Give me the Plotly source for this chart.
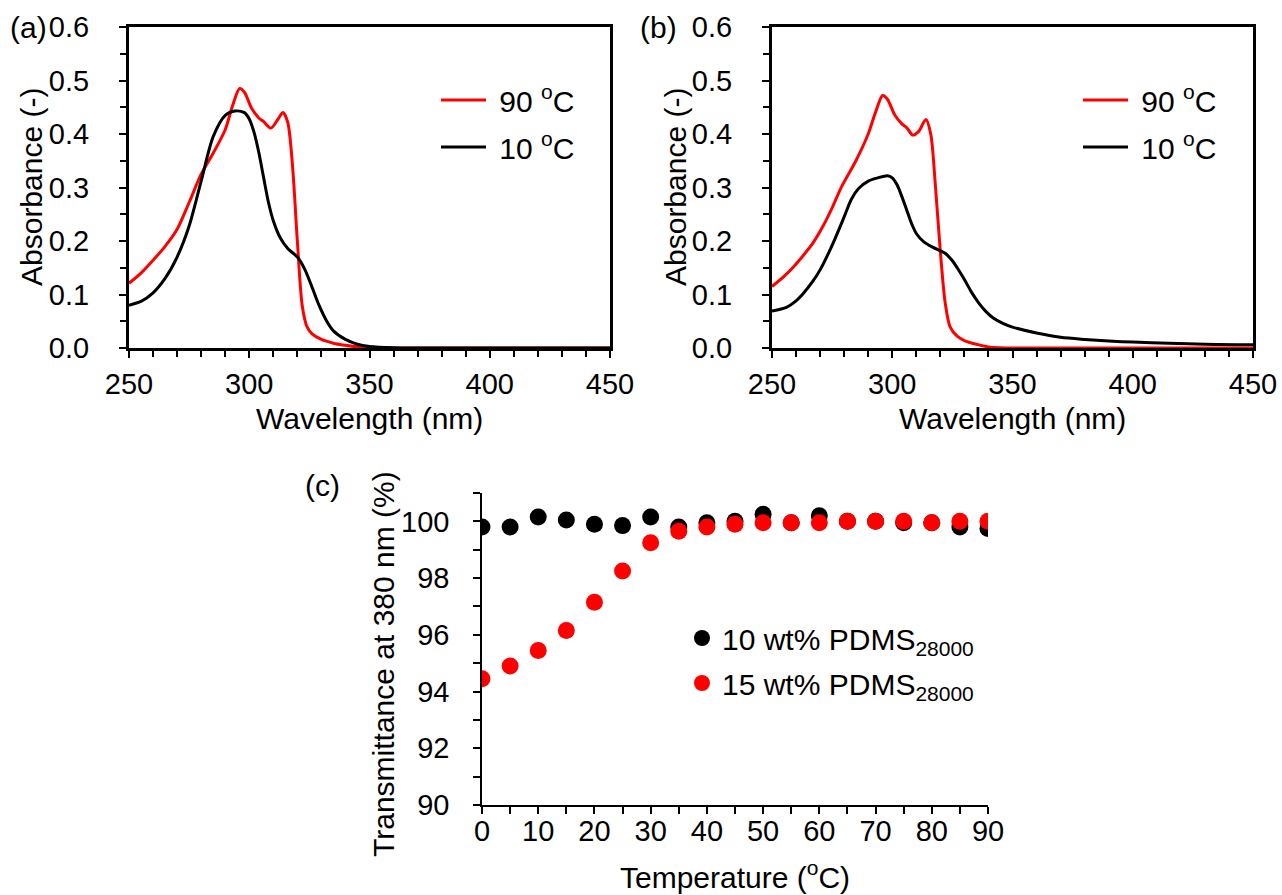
import plotly.graph_objects as go

# ---------------- data ----------------
# Panel (a)
a_red_wl = [250, 255, 260, 265, 270, 275, 280, 285, 290, 293, 296, 298, 301, 304, 306, 309, 312, 314, 316, 318, 320, 322, 324, 326, 330, 335, 340, 345, 350, 360, 450]
a_red_abs = [0.121, 0.140, 0.164, 0.190, 0.222, 0.272, 0.325, 0.364, 0.408, 0.452, 0.485, 0.478, 0.448, 0.430, 0.423, 0.411, 0.428, 0.440, 0.422, 0.340, 0.200, 0.080, 0.040, 0.027, 0.016, 0.009, 0.005, 0.002, 0.001, 0.0, 0.0]
a_blk_wl = [250, 255, 260, 265, 270, 275, 280, 285, 290, 294, 298, 300, 302, 304, 306, 308, 310, 313, 316, 320, 323, 326, 329, 332, 335, 340, 345, 350, 360, 370, 450]
a_blk_abs = [0.080, 0.087, 0.103, 0.130, 0.170, 0.228, 0.312, 0.395, 0.435, 0.443, 0.440, 0.428, 0.403, 0.365, 0.318, 0.272, 0.238, 0.205, 0.186, 0.170, 0.148, 0.115, 0.080, 0.052, 0.032, 0.016, 0.007, 0.003, 0.0005, 0.0, 0.0]

# Panel (b)
b_red_wl = [250, 255, 259, 263, 267, 271, 275, 279, 285, 290, 293, 296, 298, 301, 304, 306, 308.5, 311, 314, 316, 318, 320, 322, 324, 327, 330, 335, 340, 345, 350, 450]
b_red_abs = [0.115, 0.134, 0.152, 0.173, 0.196, 0.226, 0.262, 0.302, 0.351, 0.400, 0.440, 0.472, 0.465, 0.436, 0.419, 0.412, 0.398, 0.405, 0.427, 0.400, 0.300, 0.180, 0.085, 0.040, 0.022, 0.014, 0.007, 0.002, 0.0005, 0.0, 0.0]
b_blk_wl = [250, 256, 260, 263, 267, 270, 275, 280, 283, 286, 290, 294, 298, 300, 302, 304, 306, 308, 310, 313, 317, 322, 325, 327, 330, 333, 336, 339, 342, 346, 350, 360, 370, 380, 390, 400, 415, 430, 450]
b_blk_abs = [0.069, 0.076, 0.088, 0.102, 0.125, 0.146, 0.192, 0.245, 0.278, 0.298, 0.312, 0.318, 0.322, 0.318, 0.305, 0.283, 0.258, 0.233, 0.214, 0.199, 0.188, 0.177, 0.163, 0.150, 0.128, 0.104, 0.084, 0.068, 0.056, 0.046, 0.039, 0.028, 0.020, 0.016, 0.013, 0.011, 0.009, 0.007, 0.006]

# Panel (c)
temps = [0, 5, 10, 15, 20, 25, 30, 35, 40, 45, 50, 55, 60, 65, 70, 75, 80, 85, 90]
t_10wt = [99.8, 99.8, 100.15, 100.05, 99.9, 99.85, 100.15, 99.8, 99.95, 100.0, 100.25, 99.95, 100.2, 100.0, 100.0, 99.95, 99.95, 99.8, 99.75]
t_15wt = [94.45, 94.9, 95.45, 96.15, 97.15, 98.25, 99.25, 99.65, 99.8, 99.9, 99.95, 99.95, 99.95, 100.0, 100.0, 100.0, 99.95, 100.0, 100.0]

label_90 = "\u00a090 <sup>o</sup>C"
label_10 = "\u00a010 <sup>o</sup>C"
label_c1 = "10 wt% PDMS<sub>28000</sub>"
label_c2 = "15 wt% PDMS<sub>28000</sub>"

FONT = "Arial, Liberation Sans, sans-serif"
FS_TICK = 29
FS = 30
W, H = 1282, 895

def px_x(p):
    return p / W

def px_y(p):
    return 1 - p / H

fig = go.Figure()

# (a)
fig.add_trace(go.Scatter(x=a_red_wl, y=a_red_abs, mode="lines", name=label_90,
                         line=dict(color="#ff0000", width=3, shape="spline", smoothing=0.8),
                         xaxis="x", yaxis="y", legend="legend", legendgroup="a1"))
fig.add_trace(go.Scatter(x=a_blk_wl, y=a_blk_abs, mode="lines", name=label_10,
                         line=dict(color="#000000", width=3, shape="spline", smoothing=0.8),
                         xaxis="x", yaxis="y", legend="legend", legendgroup="a2"))
# (b)
fig.add_trace(go.Scatter(x=b_red_wl, y=b_red_abs, mode="lines", name=label_90,
                         line=dict(color="#ff0000", width=3, shape="spline", smoothing=0.8),
                         xaxis="x2", yaxis="y2", legend="legend2", legendgroup="b1"))
fig.add_trace(go.Scatter(x=b_blk_wl, y=b_blk_abs, mode="lines", name=label_10,
                         line=dict(color="#000000", width=3, shape="spline", smoothing=0.8),
                         xaxis="x2", yaxis="y2", legend="legend2", legendgroup="b2"))
# (c)
fig.add_trace(go.Scatter(x=temps, y=t_10wt, mode="markers", name=label_c1,
                         marker=dict(color="#000000", size=17),
                         xaxis="x3", yaxis="y3", legend="legend3", legendgroup="c1"))
fig.add_trace(go.Scatter(x=temps, y=t_15wt, mode="markers", name=label_c2,
                         marker=dict(color="#ff0000", size=17),
                         xaxis="x3", yaxis="y3", legend="legend3", legendgroup="c2"))

tickfont = dict(family=FONT, size=FS_TICK, color="#000")

def abs_x(domain, anchor):
    return dict(domain=domain, anchor=anchor, range=[250, 450], dtick=50, tick0=250,
                automargin=False,
                showgrid=False, zeroline=False, showline=True, linecolor="#000", linewidth=3,
                mirror=True, ticks="outside", ticklen=7, tickwidth=2, tickcolor="#000",
                minor=dict(ticks="outside", dtick=10, ticklen=6, tickwidth=2, tickcolor="#000", showgrid=False),
                tickfont=tickfont, ticklabelstandoff=1)

def abs_y(domain, anchor):
    return dict(domain=domain, anchor=anchor, range=[0, 0.6], dtick=0.1, tick0=0, tickformat=".1f",
                automargin=False,
                showgrid=False, zeroline=False, showline=True, linecolor="#000", linewidth=3,
                mirror=True, ticks="outside", ticklen=7, tickwidth=2, tickcolor="#000",
                minor=dict(ticks="outside", dtick=0.05, ticklen=6, tickwidth=2, tickcolor="#000", showgrid=False),
                tickfont=tickfont, ticklabelstandoff=24)

ydom_ab = [px_y(348), px_y(27)]

fig.update_layout(
    width=W, height=H,
    margin=dict(l=0, r=0, t=0, b=0, autoexpand=False),
    paper_bgcolor="white", plot_bgcolor="white",
    font=dict(family=FONT, size=FS, color="#000"),
    xaxis=abs_x([px_x(129), px_x(610)], "y"),
    yaxis=abs_y(ydom_ab, "x"),
    xaxis2=abs_x([px_x(772), px_x(1253)], "y2"),
    yaxis2=abs_y(ydom_ab, "x2"),
    xaxis3=dict(domain=[px_x(482), px_x(988)], anchor="y3", range=[0, 90], dtick=10, tick0=0,
                automargin=False,
                showgrid=False, zeroline=False, showline=True, linecolor="#000", linewidth=1.5,
                ticks="outside", ticklen=7, tickwidth=1.5, tickcolor="#000",
                minor=dict(ticks="outside", dtick=5, ticklen=7, tickwidth=1.5, tickcolor="#000", showgrid=False),
                tickfont=tickfont, ticklabelstandoff=-8),
    yaxis3=dict(domain=[px_y(805), px_y(493)], anchor="x3", range=[90, 101], dtick=2, tick0=90,
                automargin=False,
                showgrid=False, zeroline=False, showline=True, linecolor="#000", linewidth=1.5,
                ticks="outside", ticklen=7, tickwidth=1.5, tickcolor="#000",
                minor=dict(ticks="outside", dtick=1, ticklen=7, tickwidth=1.5, tickcolor="#000", showgrid=False),
                tickfont=tickfont, ticklabelstandoff=18),
    legend=dict(x=px_x(436), y=px_y(74), xanchor="left", yanchor="top", bgcolor="rgba(0,0,0,0)",
                font=dict(family=FONT, size=FS), itemwidth=45, tracegroupgap=5),
    legend2=dict(x=px_x(1078), y=px_y(74), xanchor="left", yanchor="top", bgcolor="rgba(0,0,0,0)",
                 font=dict(family=FONT, size=FS), itemwidth=45, tracegroupgap=5),
    legend3=dict(x=px_x(682), y=px_y(612), xanchor="left", yanchor="top", bgcolor="rgba(0,0,0,0)",
                 font=dict(family=FONT, size=FS), itemsizing="trace", tracegroupgap=3),
    showlegend=True,
)

annots = [
    dict(text="(a)", x=px_x(8), y=px_y(27), xanchor="left", yanchor="middle"),
    dict(text="(b)", x=px_x(638), y=px_y(27), xanchor="left", yanchor="middle"),
    dict(text="(c)", x=px_x(303), y=px_y(485), xanchor="left", yanchor="middle"),
    dict(text="Absorbance (-)", x=px_x(32), y=px_y(187), textangle=-90, xanchor="center", yanchor="middle"),
    dict(text="Wavelength (nm)", x=px_x(370), y=px_y(418), xanchor="center", yanchor="middle"),
    dict(text="Absorbance (-)", x=px_x(676), y=px_y(187), textangle=-90, xanchor="center", yanchor="middle"),
    dict(text="Wavelength (nm)", x=px_x(1012), y=px_y(418), xanchor="center", yanchor="middle"),
    dict(text="Transmittance at 380 nm (%)", x=px_x(383), y=px_y(664), textangle=-90, xanchor="center", yanchor="middle"),
    dict(text="Temperature (<sup>o</sup>C)", x=px_x(735), y=px_y(875), xanchor="center", yanchor="middle"),
]
for a in annots:
    fig.add_annotation(xref="paper", yref="paper", showarrow=False,
                       font=dict(family=FONT, size=FS, color="#000"), **a)

fig.write_html("out.html")
